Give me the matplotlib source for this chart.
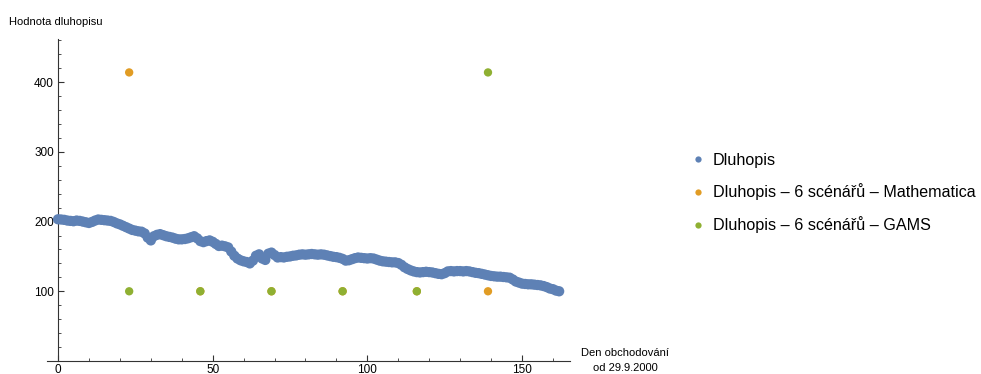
import matplotlib
matplotlib.use("Agg")
import matplotlib.pyplot as plt
from matplotlib.lines import Line2D

plt.rcParams['font.family'] = ['Liberation Sans', 'DejaVu Sans']

# Bond value per trading day (day 0..162)
bond_values = [
    203.3, 203, 202.5, 201.5, 201, 200.5, 201.5, 201, 200, 199,
    198, 199.5, 201.5, 203, 202.5, 202, 201.5, 201, 199.5, 197.5,
    196, 194, 192, 190, 188, 187, 186, 185.5, 183, 177,
    173, 179, 181, 182, 180.5, 179, 178, 177, 175.5, 174.5,
    174.5, 175, 176, 177.5, 179, 176, 172, 170.5, 172, 173,
    171, 168, 165, 165.5, 164.5, 163, 157, 151, 147, 144.5,
    143, 142, 140, 144, 151, 153, 147, 145, 154, 155.5,
    152, 148.5, 149, 148.5, 149.5, 150, 151, 151.5, 152.5, 153,
    152.5, 153, 153.5, 153, 152.5, 153, 152.5, 151.5, 150.5, 149.5,
    149, 148, 146.5, 144, 144.5, 146, 147.5, 148.5, 148, 147.5,
    147, 147.5, 147, 145.5, 144, 143, 142.5, 142, 141.5, 141.5,
    140.5, 138, 134.5, 132, 130, 128.5, 127.5, 127, 127.5, 128,
    127.5, 127, 126, 125, 124.5, 126, 128.5, 129, 128.5, 129,
    129, 128.5, 129, 128.5, 127.5, 126.5, 126, 125, 124, 123,
    122, 121.5, 121, 121, 120.5, 120, 119.5, 117, 114, 112.5,
    111, 110.5, 110, 110, 109.5, 109, 108.5, 107.5, 106, 104,
    103, 101, 100,
]
bond_days = list(range(len(bond_values)))

scenario_days = [23, 46, 69, 92, 116, 139]
mathematica_values = [414, 100, 100, 100, 100, 100]
gams_values = [100, 100, 100, 100, 100, 414]

labels = ["Dluhopis",
          "Dluhopis \u2013 6 scénářů \u2013 Mathematica",
          "Dluhopis \u2013 6 scénářů \u2013 GAMS"]

c_blue = "#5E81B5"
c_orange = "#E19C24"
c_green = "#8FB032"

fig = plt.figure(figsize=(9.81, 3.74), dpi=100)
ax = fig.add_axes([0.0478, 0.0348, 0.5332, 0.861])

ax.scatter(bond_days, bond_values, s=55, color=c_blue, edgecolors='none', zorder=3)
ax.scatter(scenario_days, mathematica_values, s=36, color=c_orange, edgecolors='none', zorder=4)
ax.scatter(scenario_days, gams_values, s=36, color=c_green, edgecolors='none', zorder=5)

ax.set_xlim(-3.6, 165.5)
ax.set_ylim(0, 462)
ax.spines['left'].set_position(('data', 0))
ax.spines['bottom'].set_position(('data', 0))
ax.spines['right'].set_visible(False)
ax.spines['top'].set_visible(False)
for sp in ('left', 'bottom'):
    ax.spines[sp].set_color('#333333')
    ax.spines[sp].set_linewidth(0.8)

ax.set_xticks([0, 50, 100, 150])
ax.set_xticks(range(10, 170, 10), minor=True)
ax.set_yticks([100, 200, 300, 400])
ax.set_yticks([y for y in range(20, 462, 20) if y % 100], minor=True)
ax.tick_params(which='both', direction='in', colors='#333333', labelcolor='black',
               labelsize=8.5, pad=3)
ax.tick_params(axis='x', which='both', pad=2.5)
ax.tick_params(which='major', length=4.5, width=0.8)
ax.tick_params(which='minor', length=2.5, width=0.6)

fig.text(9 / 981, 1 - 22 / 374, "Hodnota dluhopisu", fontsize=8, va='center', ha='left')
fig.text(625 / 981, 1 - 353 / 374, "Den obchodování", fontsize=8, va='center', ha='center')
fig.text(625 / 981, 1 - 368 / 374, "od 29.9.2000", fontsize=8, va='center', ha='center')

handles = [Line2D([], [], marker='o', linestyle='none', color=c, markersize=4.5, markeredgewidth=0)
           for c in (c_blue, c_orange, c_green)]
fig.legend(handles, labels, loc='center left', bbox_to_anchor=(683 / 981, 1 - 193 / 374),
           frameon=False, fontsize=11.6, handletextpad=0.45, labelspacing=0.98,
           handlelength=1.0, borderaxespad=0)

fig.savefig("out.png", dpi=100)
